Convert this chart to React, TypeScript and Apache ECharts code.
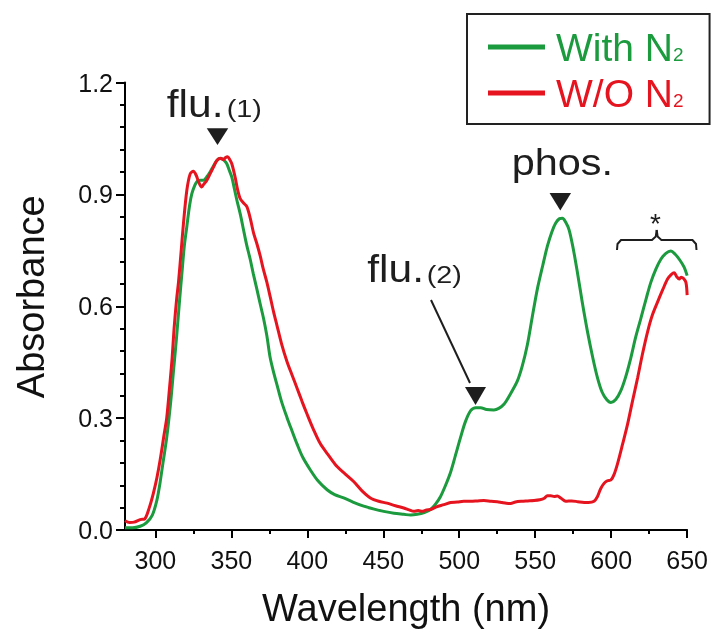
import React, { useEffect, useRef } from "react";
import * as echarts from "echarts";

// Absorption spectra: with and without N2 purge
const withN2Nm = [
  280, 285, 290, 294, 298, 301, 303, 305, 307.5, 310, 312, 314, 316, 317.5, 319, 320.7, 322.5, 324, 326, 327.5,
  329.5, 331.6, 334, 336, 338.5, 340.5, 342.5, 344, 345.5, 347, 348.5, 350.3, 352, 353.6, 356, 358, 360, 362.4,
  364.5, 366.8, 369, 371.2, 373.4, 375.6, 378, 380, 383, 386.6, 390, 393.2, 397, 402, 407, 413, 418, 423.9, 430,
  437.1, 444, 450.3, 457, 463.5, 468, 472.3, 477, 481.1, 484.5, 487.7, 491, 494.3, 497.5, 500.9, 504, 507.5, 511,
  514, 518, 522.8, 526, 529.4, 533, 538.2, 541.5, 544.8, 548, 551.4, 555, 558, 561, 563.5, 566, 567.9, 570, 572.3,
  575, 577.8, 581, 584.4, 588, 591, 594, 597, 599.8, 603, 606.3, 609.5, 612.9, 616, 619.5, 623, 626.1, 629.5,
  632.7, 636, 639.3, 642, 644.8, 648, 650,
];
const withN2Abs = [
  0.006, 0.006, 0.01, 0.019, 0.04, 0.08, 0.125, 0.18, 0.249, 0.34, 0.43, 0.52, 0.62, 0.69, 0.76, 0.814, 0.87, 0.902,
  0.925, 0.935, 0.938, 0.938, 0.948, 0.96, 0.978, 0.991, 0.996, 0.995, 0.99, 0.982, 0.966, 0.946, 0.915, 0.885,
  0.845, 0.805, 0.766, 0.726, 0.686, 0.646, 0.606, 0.567, 0.52, 0.461, 0.42, 0.39, 0.345, 0.302, 0.265, 0.231,
  0.195, 0.161, 0.132, 0.108, 0.095, 0.086, 0.075, 0.064, 0.056, 0.05, 0.045, 0.042, 0.04, 0.042, 0.047, 0.055,
  0.07, 0.09, 0.12, 0.155, 0.2, 0.249, 0.29, 0.32, 0.328, 0.328, 0.323, 0.322, 0.326, 0.337, 0.36, 0.399, 0.44,
  0.496, 0.57, 0.646, 0.71, 0.761, 0.8, 0.823, 0.835, 0.836, 0.826, 0.805, 0.755, 0.69, 0.61, 0.532, 0.46, 0.408,
  0.37, 0.35, 0.342, 0.35, 0.373, 0.41, 0.461, 0.515, 0.567, 0.62, 0.664, 0.7, 0.726, 0.742, 0.748, 0.74, 0.726,
  0.705, 0.682,
];

const woN2Nm = [
  280, 283, 286, 290, 293, 296, 298.7, 301, 303.1, 305.5, 307.5, 309.5, 311, 312.3, 314, 315.2, 317, 318.5, 320.7,
  322.9, 325, 327, 328.3, 330.5, 332, 333.9, 336, 338.2, 340, 341.5, 343, 344.8, 346, 347.5, 349, 350.3, 352.5,
  354, 355.8, 358, 360.2, 362.5, 364.6, 367, 369, 371, 373.4, 375.6, 377.8, 380, 383, 386.6, 390, 393.2, 396.5,
  399.8, 404, 408.6, 414, 419.6, 425, 430.5, 436, 441.5, 447, 452.5, 458, 463.5, 467, 470.1, 473, 475.6, 478.5,
  481.1, 485, 489.9, 494.3, 498.7, 503, 507.5, 512, 516.2, 521, 525, 528, 531, 533.8, 537, 541, 545, 549.2, 553,
  556, 558, 560.2, 562.5, 564.6, 567, 570.1, 574, 578, 582.2, 585, 588.7, 591, 593, 595.3, 597.5, 599.8, 602,
  604.2, 607.5, 610.8, 614, 617.4, 620.5, 624, 627, 630.5, 634, 637.1, 639.5, 641.5, 643, 644.8, 646, 647.5,
  649.2, 650,
];
const woN2Abs = [
  0.025, 0.02, 0.021, 0.028, 0.03, 0.06, 0.099, 0.14, 0.187, 0.25, 0.302, 0.39, 0.46, 0.54, 0.62, 0.664, 0.75,
  0.823, 0.911, 0.955, 0.962, 0.95, 0.935, 0.92, 0.928, 0.938, 0.955, 0.973, 0.988, 0.995, 0.997, 0.993, 0.998,
  1.001, 0.993, 0.982, 0.946, 0.915, 0.889, 0.877, 0.867, 0.835, 0.797, 0.765, 0.735, 0.7, 0.664, 0.625, 0.585,
  0.549, 0.5, 0.452, 0.415, 0.381, 0.345, 0.311, 0.27, 0.231, 0.2, 0.17, 0.15, 0.13, 0.105, 0.086, 0.077, 0.072,
  0.065, 0.059, 0.054, 0.05, 0.052, 0.05, 0.054, 0.055, 0.062, 0.068, 0.074, 0.075, 0.077, 0.077, 0.078, 0.079,
  0.077, 0.076, 0.074, 0.072, 0.071, 0.075, 0.077, 0.078, 0.079, 0.081, 0.085, 0.092, 0.092, 0.09, 0.091, 0.085,
  0.077, 0.078, 0.076, 0.074, 0.074, 0.077, 0.09, 0.11, 0.125, 0.132, 0.134, 0.15, 0.178, 0.23, 0.284, 0.345,
  0.408, 0.47, 0.532, 0.575, 0.611, 0.645, 0.673, 0.685, 0.69, 0.68, 0.673, 0.678, 0.675, 0.664, 0.63,
];

const xMajorTicks = [300, 350, 400, 450, 500, 550, 600, 650];
const xMinorTicks = [325, 375, 425, 475, 525, 575, 625];

const GREEN = "#1b9a3e";
const RED = "#e5141f";
const INK = "#1e1e1e";
const FONT = '"Liberation Sans", Arial, Helvetica, sans-serif';

const zip = (xs: number[], ys: number[]) => xs.map((x, i) => [x, ys[i]]);

const textEl = (text: string, x: number, y: number, size: number, sx: number, align = "left") => ({
  type: "text",
  x,
  y,
  scaleX: sx,
  style: { text, fontSize: size, fontFamily: FONT, fill: INK, align, verticalAlign: "middle" },
});

const tri = (cx: number, top: number, w: number, h: number) => ({
  type: "polygon",
  shape: { points: [[cx - w / 2, top], [cx + w / 2, top], [cx, top + h]] },
  style: { fill: INK },
});

export default function App() {
  const ref = useRef<HTMLDivElement>(null);

  useEffect(() => {
    if (!ref.current) return;
    const chart = echarts.init(ref.current, null, { renderer: "svg" });

    const tickLabel = { fontSize: 25, fontFamily: FONT, color: "#111" };

    chart.setOption({
      animation: false,
      grid: { left: 125, right: 23, top: 82.5, bottom: 98, containLabel: false },
      legend: {
        left: 467,
        top: 14,
        orient: "vertical",
        icon: "rect",
        itemWidth: 57,
        itemHeight: 5,
        itemGap: 7,
        padding: [14, 26, 11, 21],
        borderColor: "#222",
        borderWidth: 2,
        backgroundColor: "#fff",
        data: ["With N2", "W/O N2"],
        formatter: (name: string) =>
          name === "With N2" ? "{g|With N}{gs|2}" : "{r|W/O N}{rs|2}",
        textStyle: {
          rich: {
            g: { fontSize: 39, lineHeight: 40, fontFamily: FONT, color: GREEN, padding: [0, 0, 0, 6], verticalAlign: "bottom" },
            gs: { fontSize: 19, fontFamily: FONT, color: GREEN, padding: [0, 0, 3, 0], verticalAlign: "bottom" },
            r: { fontSize: 39, lineHeight: 40, fontFamily: FONT, color: RED, padding: [0, 0, 0, 6], verticalAlign: "bottom" },
            rs: { fontSize: 19, fontFamily: FONT, color: RED, padding: [0, 0, 3, 0], verticalAlign: "bottom" },
          },
        },
      },
      xAxis: [
        {
          type: "value",
          min: 280,
          max: 650,
          name: "Wavelength (nm)",
          nameLocation: "middle",
          nameGap: 59,
          nameTextStyle: { fontSize: 38, fontFamily: FONT, color: "#111" },
          axisLine: { show: true, lineStyle: { color: "#000", width: 2 } },
          axisTick: { show: true, length: 8, customValues: xMajorTicks, lineStyle: { color: "#000", width: 2 } },
          axisLabel: { ...tickLabel, margin: 17, customValues: xMajorTicks },
          splitLine: { show: false },
        },
        {
          type: "value",
          min: 280,
          max: 650,
          position: "bottom",
          axisLine: { show: false },
          axisTick: { show: true, length: 4, customValues: xMinorTicks, lineStyle: { color: "#000", width: 2 } },
          axisLabel: { show: false },
          splitLine: { show: false },
        },
      ],
      yAxis: {
        type: "value",
        min: 0,
        max: 1.2,
        interval: 0.3,
        name: "Absorbance",
        nameLocation: "middle",
        nameGap: 75,
        nameTextStyle: { fontSize: 38, fontFamily: FONT, color: "#111", padding: [0, 0, 0, 19] },
        axisLine: { show: true, lineStyle: { color: "#000", width: 2 } },
        axisTick: { show: true, length: 9, lineStyle: { color: "#000", width: 2 } },
        minorTick: { show: true, splitNumber: 5, length: 5, lineStyle: { color: "#000", width: 2 } },
        axisLabel: { ...tickLabel, margin: 12, formatter: (v: number) => v.toFixed(1) },
        splitLine: { show: false },
      },
      series: [
        {
          name: "With N2",
          type: "line",
          data: zip(withN2Nm, withN2Abs),
          showSymbol: false,
          smooth: 0.3,
          lineStyle: { color: GREEN, width: 3 },
          itemStyle: { color: GREEN },
        },
        {
          name: "W/O N2",
          type: "line",
          data: zip(woN2Nm, woN2Abs),
          showSymbol: false,
          smooth: 0.3,
          lineStyle: { color: RED, width: 3 },
          itemStyle: { color: RED },
        },
      ],
      graphic: [
        // flu.(1) label and marker
        textEl("flu.", 166.7, 103.4, 38, 1.12),
        textEl("(1)", 226.7, 109, 23, 1.25),
        tri(217.5, 128.3, 21.5, 16.7),
        // flu.(2) label, leader and marker
        textEl("flu.", 367.3, 268.5, 38, 1.12),
        textEl("(2)", 426.7, 275.5, 23, 1.25),
        { type: "line", shape: { x1: 431, y1: 300, x2: 470, y2: 383 }, style: { stroke: INK, lineWidth: 2 } },
        tri(475.5, 387, 21, 18),
        // phosphorescence label and marker
        textEl("phos.", 511.7, 162.2, 37, 1.12),
        tri(560.3, 193, 21.5, 17.5),
        // bracket with asterisk
        {
          type: "polyline",
          shape: { points: [[617, 250], [617.5, 244], [621, 240], [652, 240], [655.8, 236.5], [656.7, 230]] },
          style: { stroke: INK, lineWidth: 2, fill: "none" },
        },
        {
          type: "polyline",
          shape: { points: [[696.5, 250], [696, 244], [692.5, 240], [661.4, 240], [657.6, 236.5], [656.7, 230]] },
          style: { stroke: INK, lineWidth: 2, fill: "none" },
        },
        textEl("*", 655.5, 223, 28, 1, "center"),
      ],
    });

    return () => chart.dispose();
  }, []);

  return <div ref={ref} style={{ position: "fixed", left: 0, top: 0, width: 711, height: 632 }} />;
}
